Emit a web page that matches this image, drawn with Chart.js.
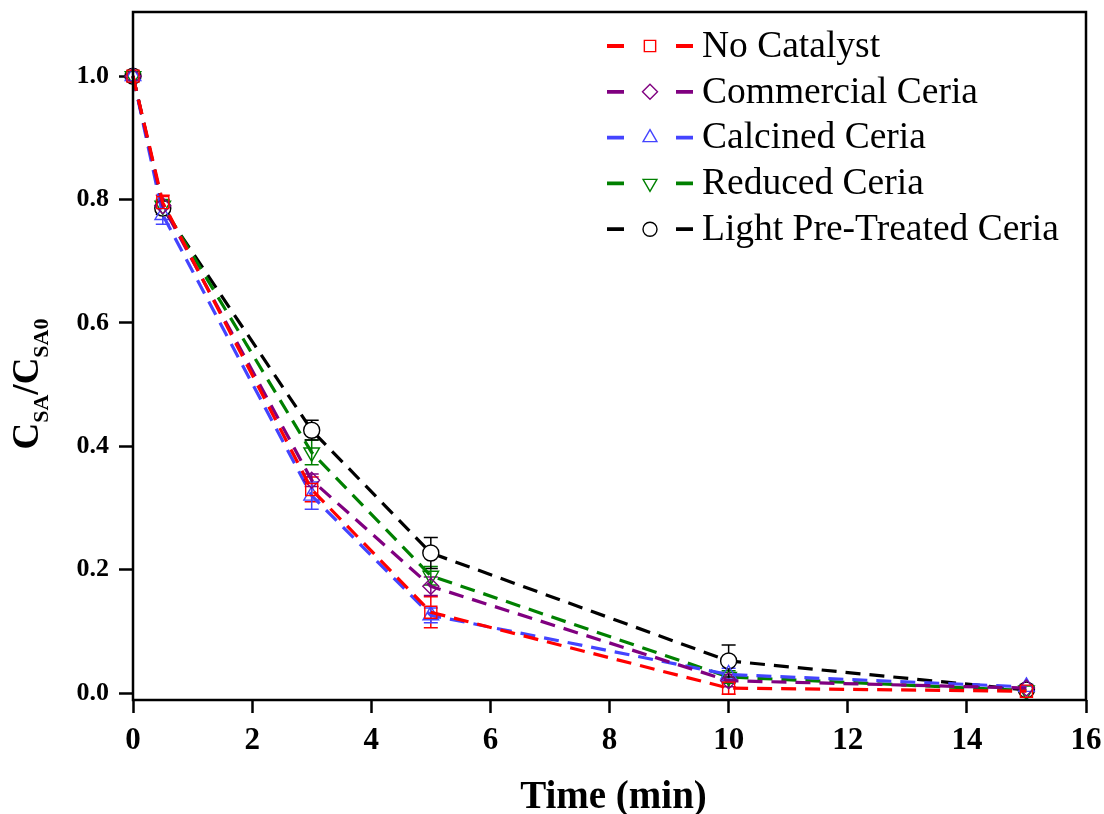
<!DOCTYPE html>
<html>
<head>
<meta charset="utf-8">
<script src="https://cdn.jsdelivr.net/npm/chart.js@4.4.0/dist/chart.umd.min.js"></script>
<style>
  html, body { margin: 0; padding: 0; background: #fff; }
  #wrap { width: 1104px; height: 814px; }
</style>
</head>
<body>
<div id="wrap"><canvas id="degradation-chart" width="1104" height="814"></canvas></div>
<script>
const chartCanvas = document.getElementById("degradation-chart");

// time points (min)
const timeValues = [0, 0.5, 3, 5, 10, 15];
const seriesNames = ["No Catalyst", "Commercial Ceria", "Calcined Ceria", "Reduced Ceria", "Light Pre-Treated Ceria"];

// C_SA / C_SA0
const noCatalyst = [1.0, 0.795, 0.330, 0.131, 0.008, 0.003];
const commercialCeria = [1.0, 0.790, 0.345, 0.173, 0.020, 0.008];
const calcinedCeria = [1.0, 0.775, 0.320, 0.126, 0.030, 0.010];
const reducedCeria = [1.0, 0.790, 0.390, 0.190, 0.026, 0.004];
const lightCeria = [1.0, 0.786, 0.426, 0.227, 0.052, 0.005];

// error bar half-heights
const noCatalystErr = [0, 0.012, 0.020, 0.025, 0.010, 0.004];
const commercialErr = [0, 0.008, 0.010, 0.015, 0.010, 0.004];
const calcinedErr = [0, 0.015, 0.022, 0.012, 0.010, 0.004];
const reducedErr = [0, 0.010, 0.020, 0.015, 0.010, 0.004];
const lightErr = [0, 0.010, 0.016, 0.025, 0.026, 0.004];

const xTicks = [0, 2, 4, 6, 8, 10, 12, 14, 16];
const yTicks = [0, 0.2, 0.4, 0.6, 0.8, 1.0];

const seriesColors = ["#ff0000", "#800080", "#4444ff", "#008000", "#000000"];
const seriesMarkers = ["rect", "rectRot", "triangle", "triangle", "circle"];
const markerRotation = [0, 0, 0, 180, 0];
const markerRadius = [8.5, 8, 9, 9, 8];
const legendRadius = [8, 7.5, 8, 8, 7];
const allValues = [noCatalyst, commercialCeria, calcinedCeria, reducedCeria, lightCeria];
const allErrors = [noCatalystErr, commercialErr, calcinedErr, reducedErr, lightErr];

const serif = '"Liberation Serif", "Times New Roman", serif';

const makeDataset = (i) => ({
    label: seriesNames[i],
    data: timeValues.map((t, k) => ({ x: t, y: allValues[i][k] })),
    errors: allErrors[i],
    borderColor: seriesColors[i],
    backgroundColor: i === 4 ? "#ffffff" : "rgba(255,255,255,0)",
    borderWidth: 3.2,
    borderDash: [15, 9],
    pointStyle: seriesMarkers[i],
    rotation: markerRotation[i],
    pointRadius: markerRadius[i],
    pointBorderWidth: 1.4,
    pointBorderColor: seriesColors[i],
    pointBackgroundColor: i === 4 ? "#ffffff" : "rgba(255,255,255,0)",
    tension: 0,
    clip: false
});

// error bars go under the markers
const errorBars = {
    id: "errorBars",
    beforeDatasetsDraw(chart) {
        const ctx = chart.ctx;
        const yScale = chart.scales.y;
        chart.data.datasets.forEach((ds, i) => {
            const meta = chart.getDatasetMeta(i);
            ctx.save();
            ctx.strokeStyle = ds.borderColor;
            ctx.lineWidth = 1.5;
            meta.data.forEach((pt, k) => {
                const e = ds.errors[k];
                if (!e) return;
                const v = ds.data[k].y;
                const top = yScale.getPixelForValue(v + e);
                const bot = yScale.getPixelForValue(v - e);
                ctx.beginPath();
                ctx.moveTo(pt.x, top); ctx.lineTo(pt.x, bot);
                ctx.moveTo(pt.x - 7, top); ctx.lineTo(pt.x + 7, top);
                ctx.moveTo(pt.x - 7, bot); ctx.lineTo(pt.x + 7, bot);
                ctx.stroke();
            });
            ctx.restore();
        });
    }
};

// frame, axis titles and the dash-marker-dash legend
const decorations = {
    id: "decorations",
    afterDraw(chart) {
        const ctx = chart.ctx;
        const a = chart.chartArea;
        ctx.save();
        ctx.strokeStyle = "#000";
        ctx.lineWidth = 2.5;
        ctx.strokeRect(a.left, a.top, a.right - a.left, a.bottom - a.top);

        // x title
        ctx.fillStyle = "#000";
        ctx.font = "bold 39px " + serif;
        ctx.textAlign = "center";
        ctx.textBaseline = "alphabetic";
        ctx.fillText("Time (min)", (a.left + a.right) / 2 + 4, 808);

        // y title with subscripts
        ctx.save();
        ctx.translate(38, 384);
        ctx.rotate(-Math.PI / 2);
        const parts = [
            { t: "C", size: 37, dy: 0 },
            { t: "SA", size: 22, dy: 10 },
            { t: "/C", size: 37, dy: 0 },
            { t: "SA0", size: 22, dy: 10 }
        ];
        let total = 0;
        parts.forEach(p => { ctx.font = "bold " + p.size + "px " + serif; p.w = ctx.measureText(p.t).width; total += p.w; });
        let px = -total / 2;
        ctx.textAlign = "left";
        parts.forEach(p => {
            ctx.font = "bold " + p.size + "px " + serif;
            ctx.fillText(p.t, px, p.dy);
            px += p.w;
        });
        ctx.restore();

        // legend
        const draw = Chart.helpers && Chart.helpers.drawPoint;
        chart.data.datasets.forEach((ds, i) => {
            const y = 46 + i * 45.8;
            ctx.strokeStyle = ds.borderColor;
            ctx.lineWidth = 3.8;
            ctx.setLineDash([]);
            ctx.beginPath();
            ctx.moveTo(607, y); ctx.lineTo(624, y);
            ctx.moveTo(676, y); ctx.lineTo(693, y);
            ctx.stroke();
            ctx.fillStyle = "#ffffff";
            ctx.lineWidth = 1.4;
            if (draw) {
                draw(ctx, { pointStyle: ds.pointStyle, rotation: ds.rotation, radius: legendRadius[i], borderWidth: 1.4 }, 650, y);
            }
            ctx.fillStyle = "#000";
            ctx.font = "37.5px " + serif;
            ctx.textAlign = "left";
            ctx.textBaseline = "middle";
            ctx.fillText(ds.label, 702, y + 1);
        });
        ctx.restore();
    }
};

new Chart(chartCanvas, {
    type: "line",
    data: {
        datasets: seriesNames.map((n, i) => makeDataset(i))
    },
    options: {
        responsive: false,
        animation: false,
        devicePixelRatio: 1,
        layout: { padding: { top: 12, right: 18, left: 0, bottom: 0 } },
        plugins: {
            legend: { display: false },
            tooltip: { enabled: false }
        },
        scales: {
            x: {
                type: "linear",
                min: 0,
                max: 16,
                afterBuildTicks: axis => { axis.ticks = xTicks.map(v => ({ value: v })); },
                afterFit: axis => {
                    axis.height = 114;
                    axis.paddingLeft = 0;
                    axis.paddingRight = 0;
                },
                border: { display: false },
                grid: { drawOnChartArea: false, drawTicks: true, tickLength: 13, tickWidth: 2.5, tickColor: "#000" },
                ticks: {
                    color: "#000",
                    padding: 9,
                    maxRotation: 0,
                    font: { family: serif, size: 31, weight: "bold" }
                }
            },
            y: {
                type: "linear",
                min: -0.0113,
                max: 1.104,
                afterBuildTicks: axis => { axis.ticks = yTicks.map(v => ({ value: v })); },
                afterFit: axis => {
                    axis.width = 133;
                    axis.paddingTop = 0;
                    axis.paddingBottom = 0;
                },
                border: { display: false },
                grid: { drawOnChartArea: false, drawTicks: true, tickLength: 14, tickWidth: 2.5, tickColor: "#000" },
                ticks: {
                    color: "#000",
                    padding: 10,
                    callback: v => Number(v).toFixed(1),
                    font: { family: serif, size: 26, weight: "bold" }
                }
            }
        }
    },
    plugins: [errorBars, decorations]
});
</script>
</body>
</html>
